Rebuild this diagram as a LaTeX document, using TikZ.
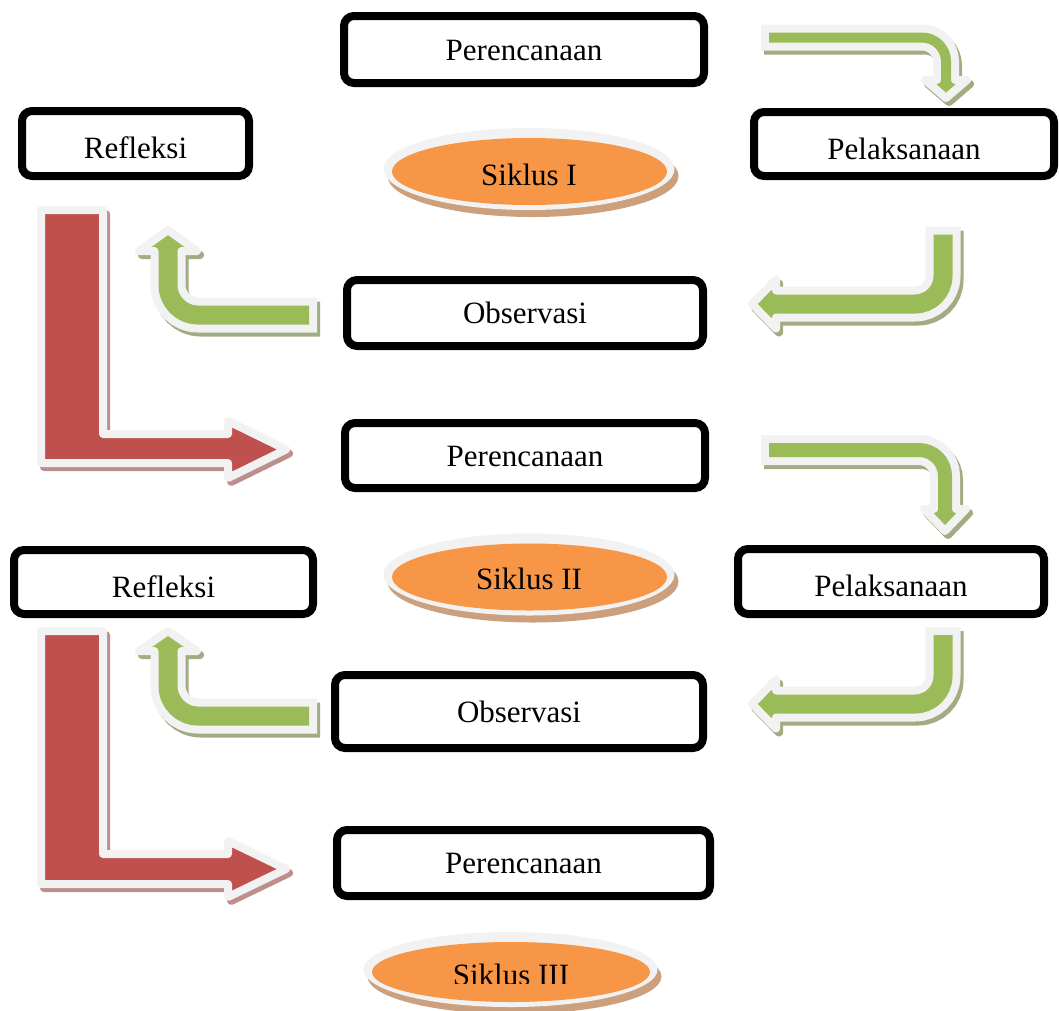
\documentclass[tikz,border=0pt]{standalone}
\usepackage{fontspec}
\setmainfont{Liberation Serif}
\definecolor{gfill}{RGB}{155,187,89}
\definecolor{rfill}{RGB}{192,80,77}
\definecolor{ofill}{RGB}{247,150,70}
\definecolor{outl}{RGB}{242,242,242}
\definecolor{gshadow}{RGB}{162,172,130}
\definecolor{rshadow}{RGB}{188,142,140}
\definecolor{eshadow}{RGB}{204,160,124}
\tikzset{
  box/.style={draw=black, line width=8pt, rounded corners=10pt, fill=white,
    inner sep=0pt, text height=21pt, text depth=0pt, align=center},
  lowtext/.style={text height=30pt},
  lab/.style={inner sep=0pt}
}
% green bent arrow: #1 corner radius, #2 body path, #3 head (open) path, #4 band width
\newcommand\garrow[4]{%
  \begin{scope}[shift={(3,4)}]
    \draw[gshadow, line width=#4+8pt, rounded corners=#1, shorten <=-4pt] #2;
    \filldraw[gshadow, line width=8pt, line join=round] #3 -- cycle;
  \end{scope}
  \draw[outl, line width=#4+8pt, rounded corners=#1, shorten <=-4pt] #2;
  \draw[gfill, line width=#4-8pt, rounded corners=#1, shorten <=4pt] #2;
  \fill[gfill] #3 -- cycle;
  \draw[outl, line width=8pt, line join=round, line cap=round] #3;
}
% red L arrow: #1 closed outline
\newcommand\rarrow[1]{%
  \filldraw[rshadow, line width=8pt, line join=round, shift={(3,4)}] #1;
  \filldraw[fill=rfill, draw=outl, line width=8pt, line join=round] #1;
}
% ellipse badge: #1 centre of orange, #2 rx, #3 ry
\newcommand\badge[3]{%
  \fill[eshadow] ($#1+(3.5,4.5)$) ellipse [x radius=#2+8, y radius=#3+7.5];
  \fill[outl] ($#1+(-0.5,-2.5)$) ellipse [x radius=#2+8, y radius=#3+7.5];
  \fill[ofill] #1 ellipse [x radius=#2, y radius=#3];
}
\usetikzlibrary{calc}
\begin{document}
\begin{tikzpicture}[x=1pt, y=-1pt, font=\fontsize{31pt}{37pt}\selectfont]
\useasboundingbox (0,0) rectangle (1059,1010);

% ---------- cycle I arrows ----------
\garrow{24pt}{(765,37.5) -- (946,37.5) -- (946,80)}
  {(937,80) -- (925,80) -- (946,98) -- (967,80) -- (955,80)}{18pt}
\garrow{28pt}{(943,230.5) -- (943,304) -- (776,304)}
  {(776,290.5) -- (776,279.5) -- (752,304) -- (776,328.5) -- (776,317.5)}{27pt}
\garrow{30pt}{(313,315) -- (168,315) -- (168,251)}
  {(181.5,251) -- (197,251) -- (168,230) -- (139,251) -- (154.5,251)}{27pt}
\rarrow{(41,210) -- (103,210) -- (103,434) -- (228,434) -- (228,421) -- (286,449.5) -- (228,478) -- (228,463) -- (41,463) -- cycle}

% ---------- cycle II arrows ----------
\garrow{26pt}{(765,450) -- (945,450) -- (945,509)}
  {(934,509) -- (924,509) -- (945,531) -- (966,509) -- (956,509)}{22pt}
\garrow{28pt}{(943,631) -- (943,704) -- (776,704)}
  {(776,690.5) -- (776,679.5) -- (752,704) -- (776,728.5) -- (776,717.5)}{27pt}
\garrow{30pt}{(313,716) -- (168,716) -- (168,651)}
  {(181.5,651) -- (197,651) -- (168,631) -- (139,651) -- (154.5,651)}{27pt}
\rarrow{(41,631) -- (103,631) -- (103,854) -- (228,854) -- (228,841) -- (286,869) -- (228,897) -- (228,884) -- (41,884) -- cycle}

% ---------- boxes ----------
\node[box, minimum width=360pt, minimum height=67pt] (p1) at (524,49.5) {Perencanaan};
\node[box, lowtext, minimum width=227pt, minimum height=65pt] (r1) at (135.5,143.5) {Refleksi};
\node[box, lowtext, minimum width=300pt, minimum height=64pt] (k1) at (904,144) {Pelaksanaan};
\node[box, minimum width=356pt, minimum height=66pt] (o1) at (525,313) {Observasi};
\node[box, minimum width=360pt, minimum height=65pt] (p2) at (525,455.5) {Perencanaan};
\node[box, lowtext, minimum width=299pt, minimum height=64pt] (r2) at (163.5,582) {Refleksi};
\node[box, lowtext, minimum width=306pt, minimum height=65pt] (k2) at (891,581.5) {Pelaksanaan};
\node[box, minimum width=368pt, minimum height=73pt] (o2) at (519,711.5) {Observasi};
\node[box, minimum width=373pt, minimum height=66pt] (p3) at (523.5,863) {Perencanaan};

% ---------- cycle badges ----------
\badge{(529.5,171.5)}{137.5}{33.5}
\node[lab, anchor=base] (s1) at (529,185) {Siklus I};
\badge{(529.5,577)}{137.5}{33.5}
\node[lab, anchor=base] (s2) at (529,589) {Siklus II};
\badge{(511,972)}{139}{30}
\begin{scope}
  \clip (300,900) rectangle (720,983);
  \node[lab, anchor=base] (s3) at (511,985) {Siklus III};
\end{scope}
\end{tikzpicture}
\end{document}
